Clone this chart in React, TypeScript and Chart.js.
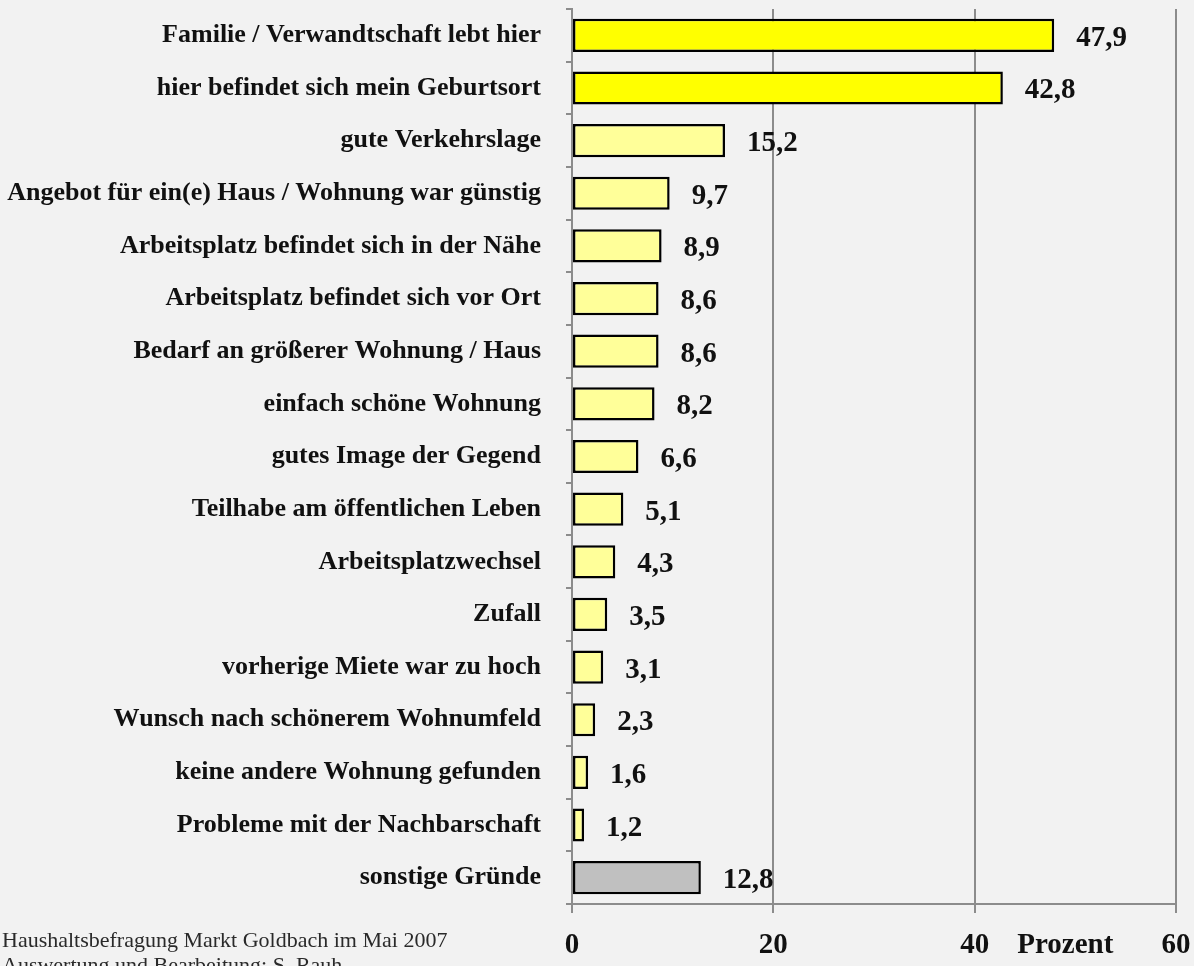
import React, { useEffect, useRef } from "react";
import { Chart, registerables } from "chart.js";

Chart.register(...registerables);

const categories = [
  "Familie / Verwandtschaft lebt hier",
  "hier befindet sich mein Geburtsort",
  "gute Verkehrslage",
  "Angebot für ein(e) Haus / Wohnung war günstig",
  "Arbeitsplatz befindet sich in der Nähe",
  "Arbeitsplatz befindet sich vor Ort",
  "Bedarf an größerer Wohnung / Haus",
  "einfach schöne Wohnung",
  "gutes Image der Gegend",
  "Teilhabe am öffentlichen Leben",
  "Arbeitsplatzwechsel",
  "Zufall",
  "vorherige Miete war zu hoch",
  "Wunsch nach schönerem Wohnumfeld",
  "keine andere Wohnung gefunden",
  "Probleme mit der Nachbarschaft",
  "sonstige Gründe",
];

const values = [47.9, 42.8, 15.2, 9.7, 8.9, 8.6, 8.6, 8.2, 6.6, 5.1, 4.3, 3.5, 3.1, 2.3, 1.6, 1.2, 12.8];

const barColors = [
  "#FFFF00", "#FFFF00",
  "#FFFF99", "#FFFF99", "#FFFF99", "#FFFF99", "#FFFF99", "#FFFF99", "#FFFF99",
  "#FFFF99", "#FFFF99", "#FFFF99", "#FFFF99", "#FFFF99", "#FFFF99", "#FFFF99",
  "#C0C0C0",
];

const xTicks = [0, 20, 40, 60];
const axisTitle = "Prozent";
const sourceLines = [
  "Haushaltsbefragung Markt Goldbach im Mai 2007",
  "Auswertung und Bearbeitung: S. Rauh",
];

const SERIF = "'Liberation Serif', 'Times New Roman', serif";

const fmt = (v: number) => v.toFixed(1).replace(".", ",");

const extrasPlugin = {
  id: "extras",
  afterDatasetsDraw(chart: any) {
    const ctx = chart.ctx;
    const meta = chart.getDatasetMeta(0);
    ctx.save();
    ctx.fillStyle = "#111111";
    ctx.font = `bold 29px ${SERIF}`;
    ctx.textBaseline = "middle";
    ctx.textAlign = "left";
    meta.data.forEach((bar: any, i: number) => {
      ctx.fillText(fmt(values[i]), bar.x + 22, bar.y + 3);
    });
    const xs = chart.scales.x;
    ctx.textAlign = "center";
    ctx.textBaseline = "alphabetic";
    ctx.fillText(axisTitle, (xs.getPixelForValue(40) + xs.getPixelForValue(60)) / 2 - 10, 953);
    ctx.font = `22px ${SERIF}`;
    ctx.textAlign = "left";
    ctx.fillStyle = "#2a2a2a";
    ctx.fillText(sourceLines[0], 2, 947);
    ctx.fillText(sourceLines[1], 2, 972);
    ctx.restore();
  },
};

export default function App() {
  const ref = useRef<HTMLCanvasElement | null>(null);
  useEffect(() => {
    document.body.style.margin = "0";
    document.body.style.background = "#F2F2F2";
    const canvas = ref.current!;
    const chart = new Chart(canvas, {
      type: "bar",
      data: {
        labels: categories,
        datasets: [
          {
            data: values,
            backgroundColor: barColors,
            borderColor: "#000000",
            borderWidth: 2.5,
            borderSkipped: false,
            barPercentage: 0.63,
            categoryPercentage: 1,
          },
        ],
      },
      options: {
        indexAxis: "y",
        responsive: false,
        animation: false,
        layout: { padding: { top: 9, right: 18, left: 0, bottom: 0 } },
        plugins: {
          legend: { display: false },
          tooltip: { enabled: false },
        },
        scales: {
          x: {
            min: 0,
            max: 60,
            afterBuildTicks: (scale: any) => {
              scale.ticks = xTicks.map((v) => ({ value: v }));
            },
            afterFit: (scale: any) => {
              scale.height = 62;
              scale.paddingLeft = 0;
              scale.paddingRight = 0;
              scale.paddingTop = 0;
              scale.paddingBottom = 0;
            },
            ticks: {
              color: "#111111",
              font: { family: SERIF, size: 29, weight: "bold" },
              padding: 15,
              maxRotation: 0,
            },
            grid: {
              color: "#8C8C8C",
              lineWidth: 2,
              tickLength: 9,
              drawTicks: true,
            },
            border: { color: "#8C8C8C", width: 2 },
          },
          y: {
            afterFit: (scale: any) => {
              scale.width = 572;
              scale.paddingLeft = 0;
              scale.paddingRight = 0;
              scale.paddingTop = 0;
              scale.paddingBottom = 0;
            },
            ticks: {
              color: "#111111",
              font: { family: SERIF, size: 26, weight: "bold" },
              padding: 25,
            },
            grid: {
              drawOnChartArea: false,
              drawTicks: true,
              tickLength: 6,
              color: "#8C8C8C",
              lineWidth: 2,
              offset: true,
            },
            border: { color: "#8C8C8C", width: 2 },
          },
        },
      },
      plugins: [extrasPlugin],
    });
    return () => chart.destroy();
  }, []);
  return (
    <div style={{ width: 1194, height: 966, background: "#F2F2F2", overflow: "hidden" }}>
      <canvas ref={ref} width={1194} height={966} style={{ display: "block" }} />
    </div>
  );
}
